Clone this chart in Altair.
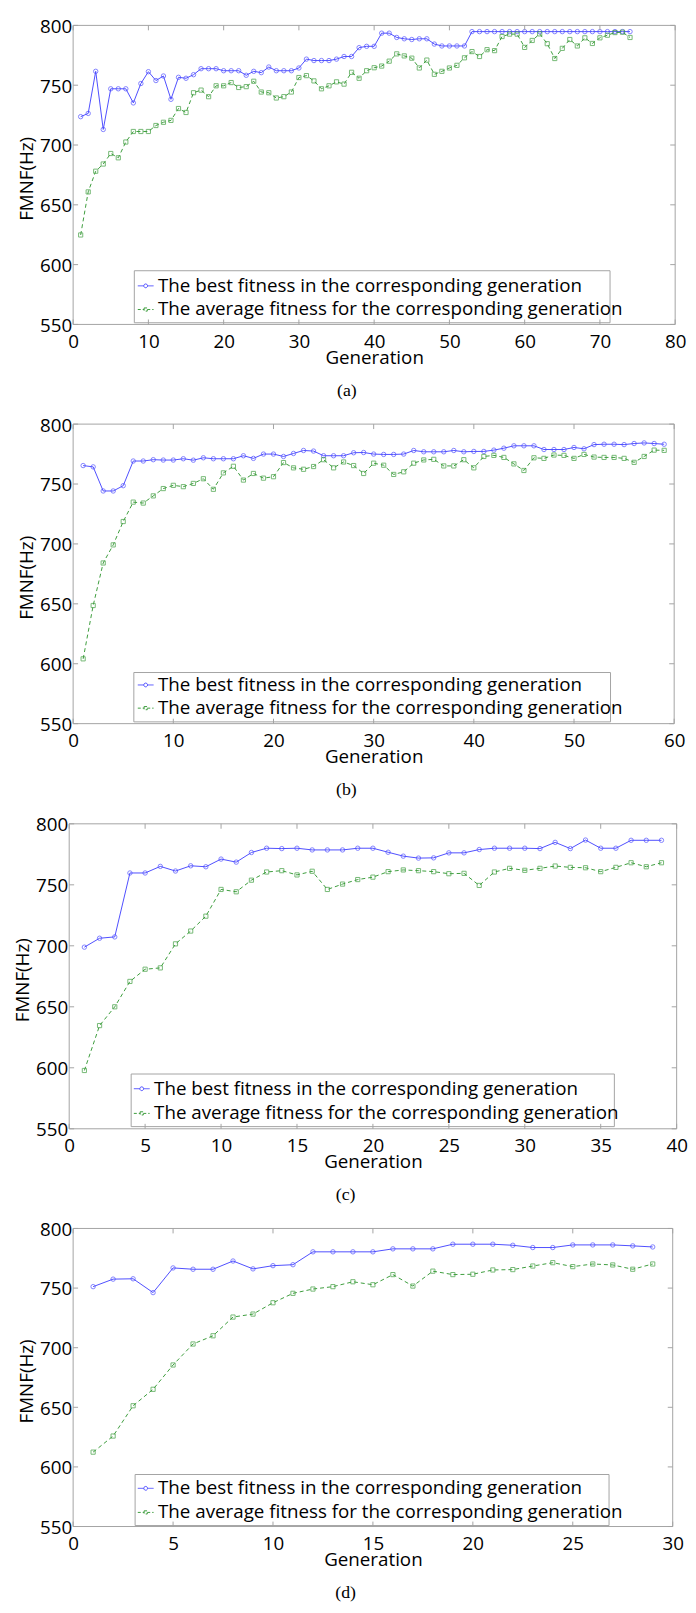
import altair as alt
import pandas as pd

SERIES = ["The best fitness in the corresponding generation",
          "The average fitness for the corresponding generation"]
COLORS = ["#4d4dff", "#3c9c3c"]
DASH = [4, 3]
Y_TICKS = [550, 600, 650, 700, 750, 800]
CAPTIONS = ["(a)", "(b)", "(c)", "(d)"]

X_TICKS_A = [0, 10, 20, 30, 40, 50, 60, 70, 80]
X_TICKS_B = [0, 10, 20, 30, 40, 50, 60]
X_TICKS_C = [0, 5, 10, 15, 20, 25, 30, 35, 40]
X_TICKS_D = [0, 5, 10, 15, 20, 25, 30]

A_BEST = [723.7, 726.4, 761.6, 713, 747, 747, 747, 735.2, 751.4, 761.3,
          753.9, 757.7, 738.2, 756.6, 755.8, 758.8, 763.8, 763.8, 763.8, 762.1,
          762.1, 762.1, 758.3, 761.6, 760.5, 765.2, 762.1, 762.1, 762.1, 764.4,
          771.8, 770.6, 770.6, 770.6, 771.8, 774, 774, 781.4, 782.5, 782.5,
          793.5, 793.5, 789.9, 788.8, 788.2, 788.8, 788.8, 784.4, 782.8, 782.8,
          782.8, 782.8, 794.8, 794.8, 794.8, 794.8, 794.8, 794.8, 794.8, 794.8,
          794.8, 794.8, 794.8, 794.8, 794.8, 794.8, 794.8, 794.8, 794.8, 794.8,
          794.8, 794.8, 794.8, 794.8]
A_AVG = [624.8, 660.8, 678.1, 684.1, 692.9, 689.3, 702.5, 711.3, 711.3, 711.3,
         716.3, 719, 720.6, 730.5, 727.2, 743.7, 745.9, 740.4, 749.5, 749.5,
         752.2, 748.1, 748.8, 753.3, 744.3, 743.7, 739.3, 740.4, 744.3, 756.4,
         758, 753.6, 747, 749.5, 752.8, 750.9, 760.8, 755.8, 762.1, 764.6,
         766, 770.1, 776.2, 774.5, 772.6, 764.4, 771, 759.1, 761.6, 764.4,
         766.6, 772.9, 778.1, 774, 779.7, 778.9, 790.7, 792.7, 792.7, 781.6,
         787.4, 792.9, 784.7, 772.3, 780.8, 788.2, 782.8, 789.6, 784.9, 789.6,
         791.8, 794, 794.3, 789.9]

B_BEST = [765.4, 764.3, 744.2, 744.2, 748.6, 769.2, 769.2, 770.3, 770, 770,
          771.1, 769.9, 771.9, 771.1, 771.1, 771.1, 773.6, 771.4, 775, 775,
          773, 775.5, 778, 777.5, 773.6, 773.6, 773.6, 776.1, 776.3, 775,
          774.7, 774.7, 775, 778, 776.9, 776.9, 776.9, 778, 776.9, 777.2,
          777.2, 778.3, 779.9, 781.9, 781.9, 781.9, 778.8, 778.8, 778.8, 780.5,
          779.4, 782.9, 783.2, 783.2, 782.9, 783.8, 784.3, 783.8, 783.2]
B_AVG = [604.1, 648.6, 684.1, 699.2, 718.7, 734.9, 734.1, 740.1, 746.2, 748.9,
         747.8, 750.5, 754.4, 745.6, 759.3, 764.8, 753.3, 758.8, 754.9, 756.1,
         767.9, 763.5, 762.3, 764.6, 770.3, 763.5, 768.4, 765.4, 758.8, 767.4,
         765.7, 758, 760.2, 767.4, 770.1, 770.6, 765.1, 765.1, 770.3, 763.5,
         773, 773.9, 772.2, 766.8, 761.3, 771.9, 771.4, 774.2, 773.9, 771.4,
         774.7, 772.5, 772.2, 772.2, 771.4, 768.1, 773, 778.3, 778.1]

C_BEST = [698.9, 706.2, 707.3, 759.7, 759.7, 765.1, 761.3, 765.6, 764.8, 771.1,
          768.6, 776.5, 780, 779.7, 780, 778.6, 778.6, 778.6, 780, 780,
          776.7, 773.5, 771.9, 772.1, 776.2, 776.2, 778.9, 780, 780, 780,
          779.7, 784.8, 779.7, 786.7, 780, 780, 786.5, 786.5, 786.5]
C_AVG = [597.8, 634.6, 650, 670.8, 680.8, 681.9, 701.6, 712.1, 724.3, 746.2,
         744.3, 753.8, 760.5, 761.6, 758.1, 761.1, 746.2, 750.6, 754.3, 756.3,
         760.8, 762.2, 761.6, 760.8, 759.1, 759.4, 749.5, 760.5, 763.5, 761.9,
         763.5, 765.4, 764.3, 764, 760.8, 764.3, 768.1, 764.8, 768.1]

D_BEST = [751.2, 757.5, 757.8, 746.2, 766.9, 765.8, 765.8, 772.7, 766.1, 768.8,
          769.6, 780.4, 780.4, 780.4, 780.4, 782.9, 782.9, 782.9, 786.8, 786.8,
          786.8, 785.9, 784, 784, 786.2, 786.2, 786.2, 785.4, 784.5]
D_AVG = [612.4, 625.9, 651.3, 665.1, 685.5, 703.1, 710, 725.7, 728.2, 737.7,
         745.6, 749.2, 751.2, 755.3, 752.8, 761.3, 751.7, 764.2, 761.3, 761.6,
         765.2, 765.5, 768.5, 771.3, 768, 770.2, 769.4, 765.8, 770.2]

FONT = "Open Sans"
FRAME = "#a3a3a3"
P_CIRCLE = ("M-1,0L-0.24,0M0.24,0L1,0M0.24,0A0.24,0.24,0,1,1,-0.24,0"
            "A0.24,0.24,0,1,1,0.24,0Z")
P_SQUARE = "M-1,0L-0.2,0M0.2,0L1,0M-0.2,-0.2L0.2,-0.2L0.2,0.2L-0.2,0.2Z"

# layout per panel: width, height, left shift, legend box, legend position, row step
LAYOUT = [
    dict(w=610, h=303, shift=0, box=(62, 248.6, 544, 301.3), lx=64, ly=254.4, step=24),
    dict(w=609, h=303.5, shift=0, box=(61.5, 251.7, 544.5, 301.7), lx=64, ly=254.8, step=23.5),
    dict(w=611.5, h=309, shift=4, box=(58.8, 253.5, 548.4, 306.8), lx=60, ly=258.9, step=25),
    dict(w=607.5, h=302, shift=0, box=(62.8, 249.3, 543, 301), lx=64, ly=253.8, step=24.4),
]


def legend_props(L, row, symbol, dash):
    return alt.Legend(
        title=None, orient="none", legendX=L["lx"], legendY=L["ly"] + row * L["step"],
        padding=0, labelFont=FONT, labelFontSize=19, labelColor="black",
        labelOffset=3, labelLimit=700, symbolSize=256, symbolStrokeWidth=1,
        symbolType=symbol, symbolDash=dash)


def panel(best, avg, xticks, caption, L):
    n = len(best)
    df = pd.DataFrame({
        "g": list(range(1, n + 1)) * 2,
        "v": best + avg,
        "s": [SERIES[0]] * n + [SERIES[1]] * len(avg),
    })
    xmin, xmax = xticks[0], xticks[-1]
    ymin, ymax = Y_TICKS[0], Y_TICKS[-1]
    xs = alt.Scale(domain=[xmin, xmax], range=[-L["shift"], L["w"]], nice=False, zero=False)
    ys = alt.Scale(domain=[ymin, ymax], nice=False, zero=False)

    xaxis = alt.Axis(values=xticks, format="d", labelFont=FONT, labelFontSize=19,
                     labelColor="black", labelPadding=23, labelBaseline="alphabetic",
                     labelFlush=False, labelOverlap=False, ticks=False, tickSize=0,
                     domain=False, grid=False, title="Generation", titleFont=FONT,
                     titleFontSize=19, titleFontWeight="normal", titleColor="black",
                     titleY=39.5, titleBaseline="alphabetic")
    yaxis = alt.Axis(values=Y_TICKS, format="d", labelFont=FONT, labelFontSize=19,
                     labelColor="black", labelPadding=1.5, labelFlush=False,
                     labelBaseline="alphabetic", labelOffset=7,
                     labelOverlap=False, ticks=False, tickSize=0, domain=False,
                     grid=False, title="FMNF(Hz)", titleFont=FONT, titleFontSize=19,
                     titleFontWeight="normal", titleColor="black", titleX=-41.2,
                     titleY=L["h"] / 2 + 3.5, titleBaseline="alphabetic",
                     titleAlign="center", offset=L["shift"])

    base = alt.Chart(df)
    X = alt.X("g:Q", scale=xs, axis=xaxis)
    Y = alt.Y("v:Q", scale=ys, axis=yaxis)

    line_best = base.transform_filter(alt.datum.s == SERIES[0]).mark_line(strokeWidth=1).encode(
        x=X, y=Y,
        color=alt.Color("s:N", scale=alt.Scale(domain=[SERIES[0]], range=[COLORS[0]]),
                        legend=legend_props(L, 0, P_CIRCLE, [1, 0])),
    )
    line_avg = base.transform_filter(alt.datum.s == SERIES[1]).mark_line(
        strokeWidth=1, strokeDash=DASH).encode(
        x="g:Q", y="v:Q",
        color=alt.Color("s:N", scale=alt.Scale(domain=[SERIES[1]], range=[COLORS[1]]),
                        legend=legend_props(L, 1, P_SQUARE, [3, 2])),
    )
    pts_best = base.transform_filter(alt.datum.s == SERIES[0]).mark_point(
        shape="circle", filled=False, size=20, strokeWidth=1, color=COLORS[0]
    ).encode(x="g:Q", y="v:Q")
    pts_avg = base.transform_filter(alt.datum.s == SERIES[1]).mark_point(
        shape="square", filled=False, size=18, strokeWidth=1, color=COLORS[1]
    ).encode(x="g:Q", y="v:Q")

    bx0, by0, bx1, by1 = L["box"]
    box = alt.Chart(pd.DataFrame({"k": [0]})).mark_rect(
        fill="white", stroke=FRAME, strokeWidth=1
    ).encode(x=alt.value(bx0), x2=alt.value(bx1), y=alt.value(by0), y2=alt.value(by1))

    # invisible spacer fixing the top extent of each panel's bounds
    spacer = alt.Chart(pd.DataFrame({"k": [0]})).mark_rule(opacity=0, strokeWidth=1).encode(
        x=alt.value(0), x2=alt.value(1), y=alt.value(-20), y2=alt.value(-20))

    edges = pd.DataFrame({
        "x": [xmin, xmin, xmin, xmax],
        "x2": [xmax, xmax, xmin, xmax],
        "y": [ymin, ymax, ymin, ymin],
        "y2": [ymin, ymax, ymax, ymax],
    })
    frame = alt.Chart(edges).mark_rule(color=FRAME, strokeWidth=1).encode(
        x="x:Q", x2="x2:Q", y="y:Q", y2="y2:Q")

    xt = pd.DataFrame({"t": xticks})
    yt = pd.DataFrame({"t": Y_TICKS})
    tb = alt.Chart(xt).mark_rule(color=FRAME, y2Offset=-5).encode(
        x="t:Q", x2="t:Q", y=alt.datum(ymin), y2=alt.datum(ymin))
    tt = alt.Chart(xt).mark_rule(color=FRAME, y2Offset=5).encode(
        x="t:Q", x2="t:Q", y=alt.datum(ymax), y2=alt.datum(ymax))
    tl = alt.Chart(yt).mark_rule(color=FRAME, x2Offset=5).encode(
        y="t:Q", y2="t:Q", x=alt.datum(xmin), x2=alt.datum(xmin))
    tr = alt.Chart(yt).mark_rule(color=FRAME, x2Offset=-5).encode(
        y="t:Q", y2="t:Q", x=alt.datum(xmax), x2=alt.datum(xmax))

    layer = alt.layer(box, spacer, line_best, line_avg, pts_best, pts_avg,
                      frame, tb, tt, tl, tr).resolve_scale(color="independent").properties(
        width=L["w"], height=L["h"],
        title=alt.TitleParams(caption, orient="bottom", font="Liberation Serif",
                              fontSize=18, fontWeight="normal", color="black",
                              offset=29, anchor="middle", frame="bounds", dx=-5,
                              baseline="alphabetic"),
    )
    return layer


panels = [
    panel(A_BEST, A_AVG, X_TICKS_A, CAPTIONS[0], LAYOUT[0]),
    panel(B_BEST, B_AVG, X_TICKS_B, CAPTIONS[1], LAYOUT[1]),
    panel(C_BEST, C_AVG, X_TICKS_C, CAPTIONS[2], LAYOUT[2]),
    panel(D_BEST, D_AVG, X_TICKS_D, CAPTIONS[3], LAYOUT[3]),
]

chart = alt.vconcat(*panels, spacing=101, bounds="flush").resolve_scale(
    color="independent", x="independent", y="independent",
).resolve_legend(color="independent").configure_view(stroke=None).properties(
    padding={"left": 5, "top": -13, "right": 0, "bottom": 0},
    background="white",
)

chart.save("out.html", embed_options={"renderer": "svg", "actions": False})
